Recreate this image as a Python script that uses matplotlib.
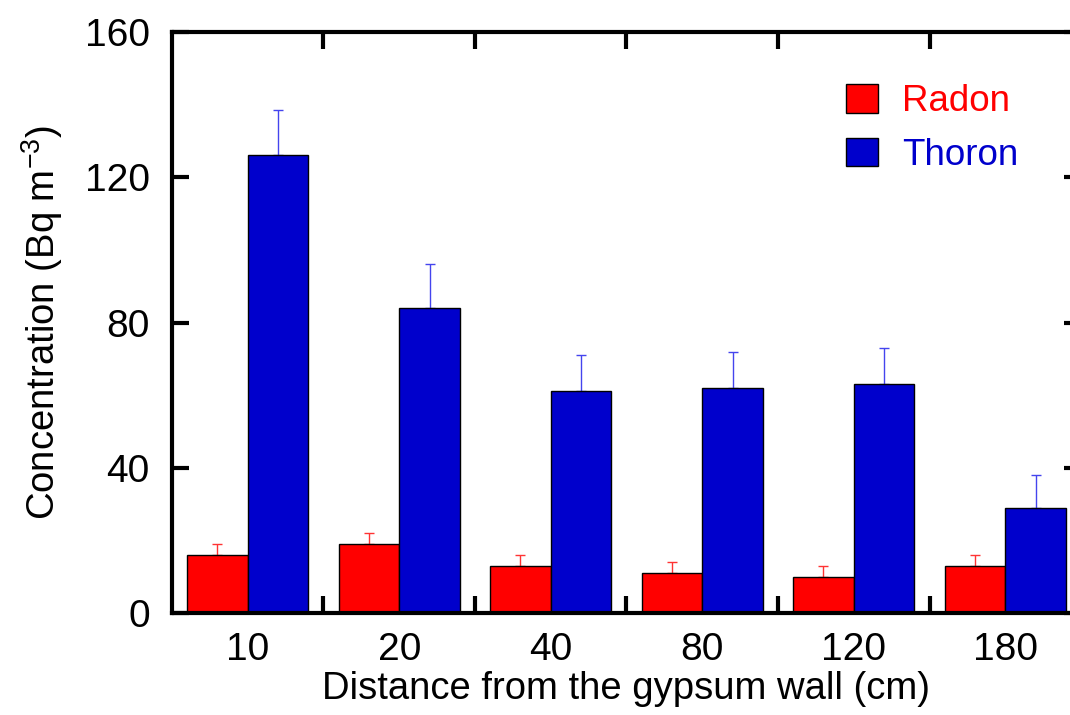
import numpy as np
import matplotlib
matplotlib.use('Agg')
import matplotlib.pyplot as plt

# 데이터
distances = ['10', '20', '40', '80', '120', '180']
radon = [16, 19, 13, 11, 10, 13]
radon_err = [3, 3, 3, 3, 3, 3]
thoron = [126, 84, 61, 62, 63, 29]
thoron_err = [12.5, 12, 10, 10, 10, 9]

plt.rcParams['font.family'] = ['Liberation Sans', 'DejaVu Sans']

fig = plt.figure(figsize=(10.7, 7.15), dpi=100)
ax = fig.add_axes([0.1607, 0.1427, 0.8496, 0.8125])

x = np.arange(len(distances))
w = 0.4
ax.bar(x - w / 2, radon, w, color='#ff0000', edgecolor='black', linewidth=1, label='Radon', zorder=2)
ax.bar(x + w / 2, thoron, w, color='#0000cc', edgecolor='black', linewidth=1, label='Thoron', zorder=2)
# 위쪽 오차 막대만 (막대 뒤에 그려서 아래 캡은 가려짐)
ax.errorbar(x - w / 2, radon, yerr=[np.zeros(len(radon)), radon_err], fmt='none',
            ecolor='#ff3333', elinewidth=1, capsize=3.5, capthick=1, zorder=1)
ax.errorbar(x + w / 2, thoron, yerr=[np.zeros(len(thoron)), thoron_err], fmt='none',
            ecolor='#4444ee', elinewidth=1, capsize=3.5, capthick=1, zorder=1)

ax.set_xlim(-0.5, len(distances) - 0.5)
ax.set_ylim(0, 160)
ax.set_yticks([0, 40, 80, 120, 160])

# 그룹 경계에 눈금, 그룹 중심에 라벨
ax.set_xticks(np.arange(len(distances) - 1) + 0.5)
ax.set_xticklabels([])
ax.set_xticks(x, minor=True)
ax.set_xticklabels(distances, minor=True)
ax.tick_params(axis='x', which='minor', length=0, pad=14, labelsize=28)
ax.tick_params(axis='x', which='major', direction='in', length=12, width=3, top=True)
ax.tick_params(axis='y', direction='in', length=12, width=3, right=True, labelsize=28, pad=16)

for s in ax.spines.values():
    s.set_linewidth(3)

ax.set_xlabel('Distance from the gypsum wall (cm)', fontsize=27.5, labelpad=2)
ax.set_ylabel('Concentration (Bq m$^{\\mathregular{-3}}$)', fontsize=27.5, labelpad=14)

ax.legend(loc='upper left', bbox_to_anchor=(0.705, 0.967), frameon=False, fontsize=26.5,
          labelcolor=['#ff0000', '#0000cc'], handlelength=0.87, handleheight=0.82,
          handletextpad=0.65, labelspacing=0.5)

plt.savefig('out.png', dpi=100)
